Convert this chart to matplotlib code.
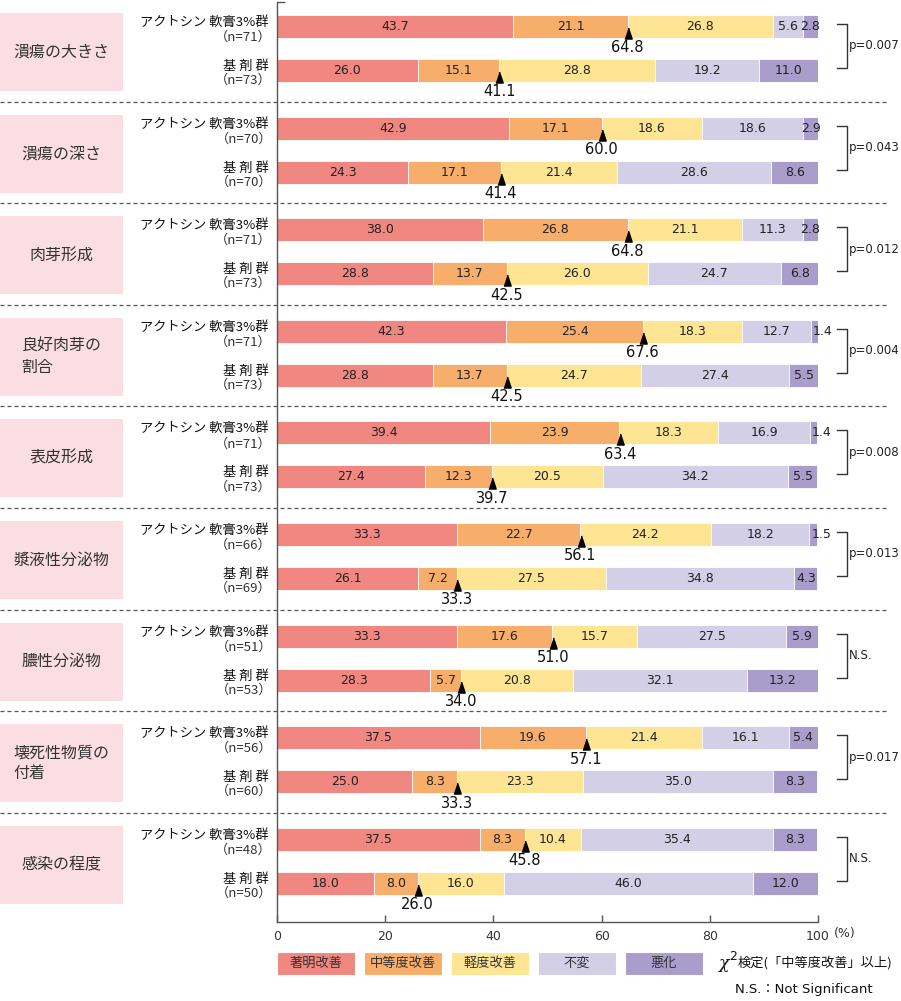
import numpy as np
import matplotlib
matplotlib.use('Agg')
from matplotlib import pyplot as plt
import matplotlib.transforms as mtransforms
from matplotlib.patches import Rectangle
from matplotlib.lines import Line2D

plt.rcParams['font.family'] = ['DejaVu Sans', 'Noto Sans CJK JP']
JP = ['Noto Sans CJK JP', 'DejaVu Sans']
NUM = 'DejaVu Sans'

# データ
groups = ['潰瘍の大きさ', '潰瘍の深さ', '肉芽形成', '良好肉芽の\n割合', '表皮形成',
          '漿液性分泌物', '膿性分泌物', '壊死性物質の\n付着', '感染の程度']
categories = ['著明改善', '中等度改善', '軽度改善', '不変', '悪化']
colors = ['#F08781', '#F7AE6A', '#FDE594', '#D3CFE7', '#A89DCB']

n_act = [71, 70, 71, 71, 71, 66, 51, 56, 48]
n_base = [73, 70, 73, 73, 73, 69, 53, 60, 50]

act = [[43.7, 21.1, 26.8, 5.6, 2.8],
       [42.9, 17.1, 18.6, 18.6, 2.9],
       [38.0, 26.8, 21.1, 11.3, 2.8],
       [42.3, 25.4, 18.3, 12.7, 1.4],
       [39.4, 23.9, 18.3, 16.9, 1.4],
       [33.3, 22.7, 24.2, 18.2, 1.5],
       [33.3, 17.6, 15.7, 27.5, 5.9],
       [37.5, 19.6, 21.4, 16.1, 5.4],
       [37.5, 8.3, 10.4, 35.4, 8.3]]
base = [[26.0, 15.1, 28.8, 19.2, 11.0],
        [24.3, 17.1, 21.4, 28.6, 8.6],
        [28.8, 13.7, 26.0, 24.7, 6.8],
        [28.8, 13.7, 24.7, 27.4, 5.5],
        [27.4, 12.3, 20.5, 34.2, 5.5],
        [26.1, 7.2, 27.5, 34.8, 4.3],
        [28.3, 5.7, 20.8, 32.1, 13.2],
        [25.0, 8.3, 23.3, 35.0, 8.3],
        [18.0, 8.0, 16.0, 46.0, 12.0]]
cum_act = [64.8, 60.0, 64.8, 67.6, 63.4, 56.1, 51.0, 57.1, 45.8]
cum_base = [41.1, 41.4, 42.5, 42.5, 39.7, 33.3, 34.0, 33.3, 26.0]
pvals = ['p=0.007', 'p=0.043', 'p=0.012', 'p=0.004', 'p=0.008',
         'p=0.013', 'N.S.', 'p=0.017', 'N.S.']
xticks = [0, 20, 40, 60, 80, 100]

# レイアウト（ピクセル）
W, H = 901, 1001
X0, X1 = 277, 818
Y_TOP, Y_BOT = 2, 922
STEP = 101.6
C0 = 26.5
GAP = 44
BH = 23
TXT = '#333333'

fig = plt.figure(figsize=(W / 100, H / 100), dpi=100)
ax = fig.add_axes([X0 / W, 1 - Y_BOT / H, (X1 - X0) / W, (Y_BOT - Y_TOP) / H])
ax.set_xlim(0, 100)
ax.set_ylim(Y_BOT, Y_TOP)
pix = mtransforms.Affine2D().scale(1 / W, -1 / H).translate(0, 1) + fig.transFigure


def px(x):
    return (x - X0) / (X1 - X0) * 100


for s in ['top', 'right']:
    ax.spines[s].set_visible(False)
for s in ['left', 'bottom']:
    ax.spines[s].set_color('#555555')
    ax.spines[s].set_linewidth(1.0)
ax.set_xticks(xticks)
ax.set_xticklabels([str(t) for t in xticks], family=NUM)
ax.tick_params(axis='x', direction='in', length=5, width=1, color='#555555',
               labelsize=9, labelcolor=TXT, pad=6)
ax.set_yticks([Y_TOP])
ax.set_yticklabels([''])
ax.tick_params(axis='y', direction='in', length=6, width=1, color='#555555')
ax.text(px(834), Y_BOT + 12, '(%)', fontsize=9, color=TXT, va='center', ha='left',
        family=NUM, clip_on=False)


def draw_bar(yc, vals, cum):
    left = 0
    for v, c in zip(vals, colors):
        ax.barh(yc, v, left=left, height=BH, color=c, edgecolor='#FFFFFF', linewidth=0.6)
        if v < 2:
            xt = left + v + 0.8
        else:
            xt = left + v / 2
        ax.text(xt, yc, f'{v:.1f}', ha='center', va='center', fontsize=9,
                color='#222222', family=NUM, clip_on=False)
        left += v
    bottom = yc + BH / 2
    ax.plot([cum], [bottom - 5], marker=[(-0.33, -0.5), (0.33, -0.5), (0, 0.5)],
            markersize=8, color='black', linestyle='none', clip_on=False)
    ax.text(cum, bottom + 10, f'{cum:.1f}', ha='center', va='center', fontsize=10.5,
            color='#111111', family=NUM, clip_on=False)


for i, g in enumerate(groups):
    yt = C0 + STEP * i
    yb = yt + GAP
    # 左のラベル枠
    fig.add_artist(Rectangle((0, yt - 13.5), 123, (yb + 20.5) - (yt - 13.5),
                             facecolor='#FBDDE4', edgecolor='none', transform=pix))
    fig.text(61.5, (yt + yb) / 2 + 3.5, g, transform=pix, ha='center', va='center',
             multialignment='left', fontsize=11.5, color=TXT, family=JP, linespacing=1.3)
    fig.text(269, yt - 4, 'アクトシン 軟膏3%群', transform=pix, ha='right', va='center',
             fontsize=9.5, color='#111111', family=JP)
    fig.text(272, yt + 11, f'（n={n_act[i]}）', transform=pix, ha='right', va='center',
             fontsize=9.5, color=TXT, family=JP)
    fig.text(269, yb - 4, '基 剤 群', transform=pix, ha='right', va='center',
             fontsize=9.5, color='#111111', family=JP)
    fig.text(272, yb + 10, f'（n={n_base[i]}）', transform=pix, ha='right', va='center',
             fontsize=9.5, color=TXT, family=JP)

    draw_bar(yt, act[i], cum_act[i])
    draw_bar(yb, base[i], cum_base[i])

    # 検定の括弧
    fig.add_artist(Line2D([837, 847, 847, 837], [yt - 2.5, yt - 2.5, yb - 2.5, yb - 2.5],
                          color='#333333', linewidth=1.0, transform=pix))
    fig.text(849, (yt + yb) / 2 - 2.5, pvals[i], transform=pix, ha='left', va='center',
             fontsize=8.5, color='#222222', family=NUM)

    if i < len(groups) - 1:
        ys = 101.5 + STEP * i
        fig.add_artist(Line2D([0, 888], [ys, ys], color='#555555', linewidth=0.9,
                              linestyle=(0, (3.2, 2.4)), transform=pix))

# 凡例
for k, (lab, c) in enumerate(zip(categories, colors)):
    x = 277 + 87 * k
    fig.add_artist(Rectangle((x, 952), 78, 23, facecolor=c, edgecolor='white',
                             linewidth=0.8, transform=pix))
    fig.text(x + 39, 963.5, lab, transform=pix, ha='center', va='center',
             fontsize=9.5, color=TXT, family=JP)

fig.text(718, 963, 'χ', transform=pix, ha='left', va='center', fontsize=12.5,
         style='italic', family='DejaVu Serif', color='#111111')
fig.text(729.5, 956, '2', transform=pix, ha='left', va='center', fontsize=9,
         color='#111111', family=NUM)
fig.text(738, 963, '検定(「中等度改善」以上)', transform=pix, ha='left', va='center',
         fontsize=9.5, color='#111111', family=JP)
fig.text(735, 989, 'N.S.：Not Significant', transform=pix, ha='left', va='center',
         fontsize=9.5, color='#111111', family=['DejaVu Sans', 'Noto Sans CJK JP'])

plt.savefig('out.png', dpi=100)
